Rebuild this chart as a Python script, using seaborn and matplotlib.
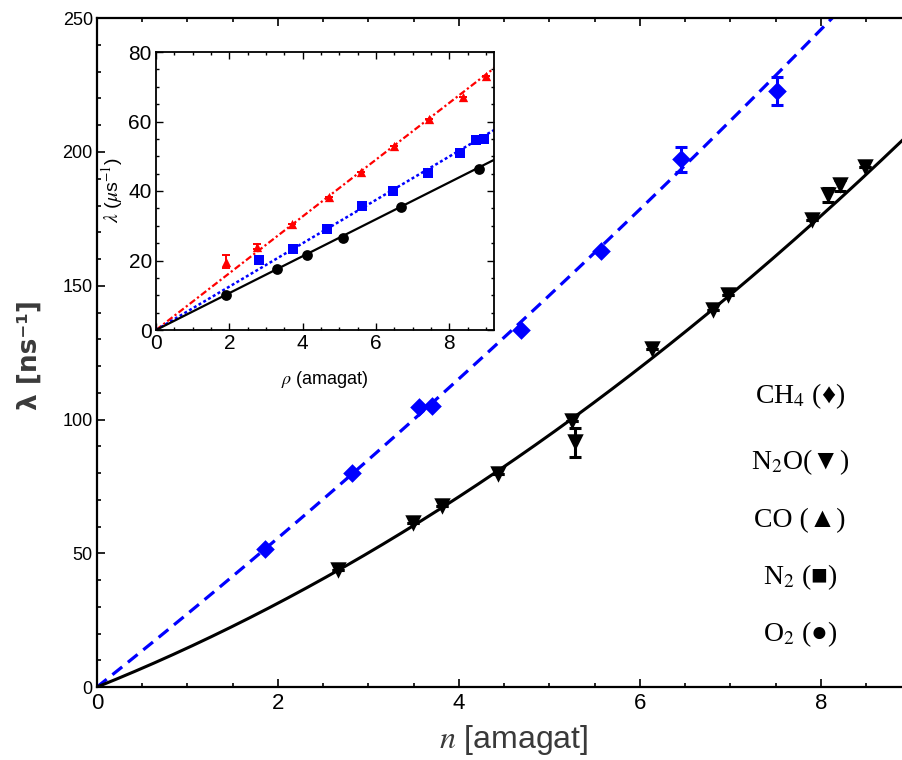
import numpy as np
import pandas as pd
import matplotlib
matplotlib.use("Agg")
import matplotlib.pyplot as plt
import seaborn as sns

# ---- main panel: decay rate vs density (ns^-1) ----
ch4_n = [1.86, 2.82, 3.56, 3.70, 4.68, 5.57, 6.45, 7.51]
ch4_lam = [51.5, 80.0, 104.8, 105.2, 133.5, 163.0, 197.3, 222.7]
ch4_err = [0, 0, 0, 0, 0, 0, 4.6, 5.3]

n2o_n = [2.66, 3.49, 3.81, 4.43, 5.25, 5.28, 6.13, 6.81, 6.97, 7.90, 8.08, 8.21, 8.49]
n2o_lam = [43.7, 61.5, 67.5, 79.8, 99.6, 91.5, 126.5, 140.9, 146.5, 174.5, 183.9, 187.6, 194.3]
n2o_err = [0, 0, 0, 0, 0, 5.5, 0, 0, 0, 0, 2.5, 2.0, 0]

# quadratic fit coefficients  lambda = a*n + b*n^2
ch4_fit = (26.9, 0.478)
n2o_fit = (13.56, 1.057)

# ---- inset: decay rate vs density (us^-1) ----
co_rho = [1.91, 2.76, 3.70, 4.71, 5.58, 6.48, 7.46, 8.37, 9.00]
co_lam = [19.7, 24.0, 30.5, 38.4, 45.6, 53.0, 60.6, 67.0, 73.1]
co_err = [1.8, 0.8, 0, 0, 0, 0, 0, 0, 0]

n2_rho = [2.82, 3.73, 4.66, 5.61, 6.46, 7.43, 8.28, 8.73, 8.95]
n2_lam = [20.1, 23.2, 29.0, 35.7, 40.1, 45.1, 50.8, 54.7, 54.9]

o2_rho = [1.91, 3.31, 4.11, 5.09, 6.68, 8.81]
o2_lam = [10.1, 17.5, 21.6, 26.6, 35.3, 46.2]

# linear fit slopes through the origin
co_slope, n2_slope, o2_slope = 8.17, 6.24, 5.31

legend_labels = ["CH$_4$ (\u2666)", "N$_2$O(\u25BC)", "CO (\u25B2)", "N$_2$ (\u25A0)", "O$_2$ (\u25CF)"]

BLUE = "#0000ff"
RED = "#ff0000"

sns.set_theme(style="ticks")
plt.rcParams["font.family"] = ["Liberation Sans", "DejaVu Sans"]
plt.rcParams["mathtext.fontset"] = "stix"
NARROW = ["Liberation Sans Narrow", "Liberation Sans", "DejaVu Sans"]

fig = plt.figure(figsize=(9.02, 7.6), dpi=100)
ax = fig.add_axes([0.1075, 0.096, 0.8925, 0.880])

# fitted curves
n_grid = np.linspace(0, 9.0, 300)
ch4_curve = pd.DataFrame({"n": n_grid, "lam": ch4_fit[0] * n_grid + ch4_fit[1] * n_grid ** 2})
n2o_curve = pd.DataFrame({"n": n_grid, "lam": n2o_fit[0] * n_grid + n2o_fit[1] * n_grid ** 2})
sns.lineplot(data=ch4_curve, x="n", y="lam", ax=ax, color=BLUE, lw=2.3,
             linestyle=(0, (3.9, 2.3)), zorder=2)
sns.lineplot(data=n2o_curve, x="n", y="lam", ax=ax, color="black", lw=2.2, zorder=2)

# data points with error bars
ax.errorbar(ch4_n, ch4_lam, yerr=ch4_err, fmt="none", ecolor=BLUE, elinewidth=2.2,
            capsize=4, capthick=2.2, zorder=3)
ax.errorbar(n2o_n, n2o_lam, yerr=n2o_err, fmt="none", ecolor="black", elinewidth=2.2,
            capsize=4, capthick=2.2, zorder=3)
sns.scatterplot(x=ch4_n, y=ch4_lam, ax=ax, marker="D", s=90, color=BLUE,
                edgecolor=BLUE, linewidth=0, zorder=4)
sns.scatterplot(x=n2o_n, y=n2o_lam, ax=ax, marker="v", s=140, color="black",
                edgecolor="black", linewidth=0, zorder=4)

ax.set_xlim(0, 8.895)
ax.set_ylim(0, 250)
ax.set_xticks([0, 2, 4, 6, 8])
ax.set_yticks([0, 50, 100, 150, 200, 250])
ax.set_xticks(np.arange(0, 8.9, 0.5), minor=True)
ax.set_yticks(np.arange(0, 251, 10), minor=True)
ax.tick_params(which="both", direction="in", top=True, right=False, color="black", width=1.2)
ax.tick_params(which="major", length=6)
ax.tick_params(which="minor", length=3)
ax.tick_params(axis="y", labelsize=13, pad=3, labelcolor="black")
ax.tick_params(axis="x", labelsize=16, pad=4, labelcolor="black")
for lab in ax.get_xticklabels():
    lab.set_family(NARROW)
ax.spines["right"].set_visible(False)
for s in ["left", "bottom", "top"]:
    ax.spines[s].set_linewidth(1.6)
    ax.spines[s].set_color("black")
ax.set_xlabel("")
ax.set_ylabel("")

ax.text(-0.083, 0.496, "\u03bb [ns\u207b\u00b9]", transform=ax.transAxes, rotation=90,
        ha="center", va="center", fontsize=19, fontweight="bold", color="#3a3a3a",
        family=["DejaVu Sans"])
ax.text(0.518, -0.079, "$n$ [amagat]", transform=ax.transAxes, ha="center", va="center",
        fontsize=23, color="#3a3a3a", family=NARROW)

# species key
key_y = [396, 462, 521, 577, 634]
for lab, yp in zip(legend_labels, key_y):
    fig.text(800 / 902, 1 - yp / 760, lab, ha="center", va="center", fontsize=20,
             family=["Liberation Serif", "DejaVu Serif"], color="black")

# ---- inset ----
axi = fig.add_axes([156 / 902, 1 - 330 / 760, 338 / 902, 278 / 760])
axi.set_facecolor("white")
rho_grid = np.array([0.0, 9.4])
sns.lineplot(x=rho_grid, y=co_slope * rho_grid, ax=axi, color=RED, lw=1.6,
             linestyle=(0, (3, 1.2, 1, 1.2)))
sns.lineplot(x=rho_grid, y=n2_slope * rho_grid, ax=axi, color=BLUE, lw=1.8,
             linestyle=(0, (1.2, 1.0)))
sns.lineplot(x=rho_grid, y=o2_slope * rho_grid, ax=axi, color="black", lw=1.6)

axi.errorbar(co_rho, co_lam, yerr=co_err, fmt="none", ecolor=RED, elinewidth=1.4,
             capsize=3, capthick=1.4, zorder=3)
sns.scatterplot(x=co_rho, y=co_lam, ax=axi, marker="^", s=45, color=RED,
                edgecolor=RED, linewidth=0, zorder=4)
sns.scatterplot(x=n2_rho, y=n2_lam, ax=axi, marker="s", s=55, color=BLUE,
                edgecolor=BLUE, linewidth=0, zorder=4)
sns.scatterplot(x=o2_rho, y=o2_lam, ax=axi, marker="o", s=60, color="black",
                edgecolor="black", linewidth=0, zorder=4)

axi.set_xlim(0, 9.22)
axi.set_ylim(0, 80)
axi.set_xticks([0, 2, 4, 6, 8])
axi.set_yticks([0, 20, 40, 60, 80])
axi.set_xticks(np.arange(0, 9.21, 0.5), minor=True)
axi.set_yticks(np.arange(0, 81, 5), minor=True)
axi.tick_params(which="both", direction="in", top=True, right=True, color="black", width=1.0)
axi.tick_params(which="major", length=5)
axi.tick_params(which="minor", length=2.5)
axi.tick_params(labelsize=15, pad=3, labelcolor="black")
for lab in axi.get_xticklabels() + axi.get_yticklabels():
    lab.set_family(NARROW)
for s in axi.spines.values():
    s.set_linewidth(1.3)
    s.set_color("black")
axi.set_xlabel("$\\rho$ (amagat)", fontsize=13, family=NARROW, color="black")
axi.set_ylabel("$\\lambda$ ($\\mu$s$^{-1}$)", fontsize=14, family=NARROW, color="black")
axi.xaxis.set_label_coords(0.5, -0.14)
axi.yaxis.set_label_coords(-0.092, 0.504)

fig.savefig("out.png", dpi=100, facecolor="white")
